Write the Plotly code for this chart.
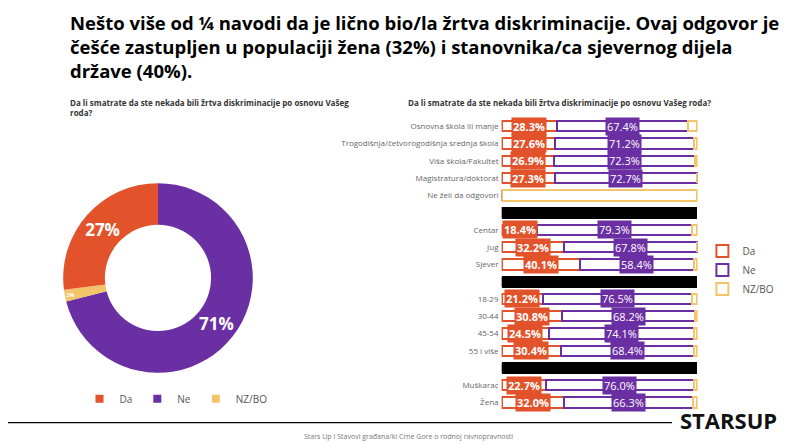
import plotly.graph_objects as go

categories = ["Osnovna škola ili manje", "Trogodišnja/četvorogodišnja srednja škola", "Viša škola/Fakultet",
              "Magistratura/doktorat", "Ne želi da odgovori", "sep1",
              "Centar", "Jug", "Sjever", "sep2",
              "18-29", "30-44", "45-54", "55 i više", "sep3",
              "Muškarac", "Žena"]
da = [28.3, 27.6, 26.9, 27.3, 0, None, 18.4, 32.2, 40.1, None, 21.2, 30.8, 24.5, 30.4, None, 22.7, 32.0]
ne = [67.4, 71.2, 72.3, 72.7, 0, None, 79.3, 67.8, 58.4, None, 76.5, 68.2, 74.1, 68.4, None, 76.0, 66.3]
nz = [4.3, 1.2, 0.8, 0.0, 100, None, 2.3, 0.0, 1.5, None, 2.3, 1.0, 1.4, 1.2, None, 1.3, 1.7]
pie_labels = ["Ne", "NZ/BO", "Da"]
pie_values = [71, 2, 27]
legend_names = ["Da", "Ne", "NZ/BO"]

OR, PU, YE = "#E2532B", "#6B2FA4", "#F3C46A"
COL = {"Da": OR, "Ne": PU, "NZ/BO": YE}
tick_text = [(c + " ") if not c.startswith("sep") else "" for c in categories]

fig = go.Figure()
fig.add_trace(go.Pie(labels=pie_labels, values=pie_values, hole=0.56, sort=False, direction="clockwise",
                     rotation=0, marker=dict(colors=[COL[l] for l in pie_labels]),
                     texttemplate="<b>%{value}%</b>", textposition="inside", insidetextorientation="horizontal",
                     textfont=dict(color="white", size=17, family="Open Sans"),
                     domain=dict(x=[0.069, 0.306], y=[0.178, 0.606]), showlegend=False))
for n in legend_names:
    fig.add_trace(go.Scatter(x=[None], y=[None], mode="markers", name=n, legend="legend2",
                             xaxis="x2", yaxis="y2",
                             marker=dict(symbol="square", size=8, color=COL[n])))

def v(arr):
    return [0 if a is None else a for a in arr]

for name, vals in [("Da", da), ("Ne", ne), ("NZ/BO", nz)]:
    fig.add_trace(go.Bar(y=categories, x=v(vals), orientation="h", name=name,
                         marker=dict(color="white", line=dict(color=COL[name], width=2)),
                         width=0.6, xaxis="x", yaxis="y", hoverinfo="skip"))
seps = [c for c in categories if c.startswith("sep")]
fig.add_trace(go.Bar(y=seps, x=[100]*len(seps), orientation="h", marker=dict(color="black", line=dict(width=0)),
                     width=0.7, showlegend=False, hoverinfo="skip"))

ann = []
for c, d, n in zip(categories, da, ne):
    if d:
        ann.append(dict(x=d/2, y=c, xref="x", yref="y", text=f"<b>{d:.1f}%</b>", showarrow=False,
                        bgcolor=OR, font=dict(color="white", size=11, family="Open Sans"), borderpad=1))
    if n:
        ann.append(dict(x=d + n/2, y=c, xref="x", yref="y", text=f"{n:.1f}%", showarrow=False,
                        bgcolor=PU, font=dict(color="white", size=11, family="Open Sans"), borderpad=1))

title = ("Nešto više od ¼ navodi da je lično bio/la žrtva diskriminacije. Ovaj odgovor je<br>"
         "češće zastupljen u populaciji žena (32%) i stanovnika/ca sjevernog dijela<br>"
         "države (40%).")
ann += [
    dict(x=0.075, y=1.0, xref="paper", yref="paper", xanchor="left", yanchor="top", align="left",
         text="<b>" + title + "</b>", showarrow=False, font=dict(size=18.5, color="black", family="Open Sans")),
    dict(x=0.075, y=0.805, xref="paper", yref="paper", xanchor="left", yanchor="top", align="left",
         text="<b>Da li smatrate da ste nekada bili žrtva diskriminacije po osnovu Vašeg<br>roda?</b>",
         showarrow=False, font=dict(size=8, color="#333", family="Open Sans")),
    dict(x=0.497, y=0.805, xref="paper", yref="paper", xanchor="left", yanchor="top", align="left",
         text="<b>Da li smatrate da ste nekada bili žrtva diskriminacije po osnovu Vašeg roda?</b>",
         showarrow=False, font=dict(size=8, color="#333", family="Open Sans")),
    dict(x=0.5, y=0.02, xref="paper", yref="paper", yanchor="bottom",
         text="Stars Up I Stavovi građana/ki Crne Gore o rodnoj ravnopravnosti",
         showarrow=False, font=dict(size=7, color="#777", family="Open Sans")),
    dict(x=0.837, y=0.072, xref="paper", yref="paper", xanchor="left", yanchor="middle",
         text="<b>STARSUP</b>", showarrow=False, font=dict(size=22, color="#111", family="Open Sans")),
]

fig.update_layout(
    width=800, height=444, margin=dict(l=0, r=0, t=0, b=0), paper_bgcolor="white", plot_bgcolor="white",
    barmode="stack", bargap=0.4, annotations=ann,
    shapes=[dict(type="line", xref="paper", yref="paper", x0=0, x1=0.83, y0=0.066, y1=0.066,
                 line=dict(color="black", width=1.2))],
    xaxis=dict(domain=[0.617, 0.862], range=[0, 100.5], visible=False),
    yaxis=dict(domain=[0.09, 0.755], autorange="reversed", categoryorder="array", categoryarray=categories,
               tickmode="array", tickvals=categories, ticktext=tick_text, ticks="", showgrid=False,
               tickfont=dict(size=8, color="#666", family="Open Sans")),
    xaxis2=dict(domain=[0, 0.01], visible=False, range=[0, 1]),
    yaxis2=dict(domain=[0, 0.01], visible=False, range=[0, 1], anchor="x2"),
    legend=dict(x=0.868, y=0.41, xanchor="left", yanchor="middle", font=dict(size=10, color="#555"),
                tracegroupgap=4, itemsizing="constant", traceorder="normal", itemwidth=30),
    legend2=dict(orientation="h", x=0.21, y=0.12, xanchor="center", yanchor="middle",
                 font=dict(size=10, color="#555"), traceorder="normal", itemwidth=30),
)
fig.write_html("out.html")
